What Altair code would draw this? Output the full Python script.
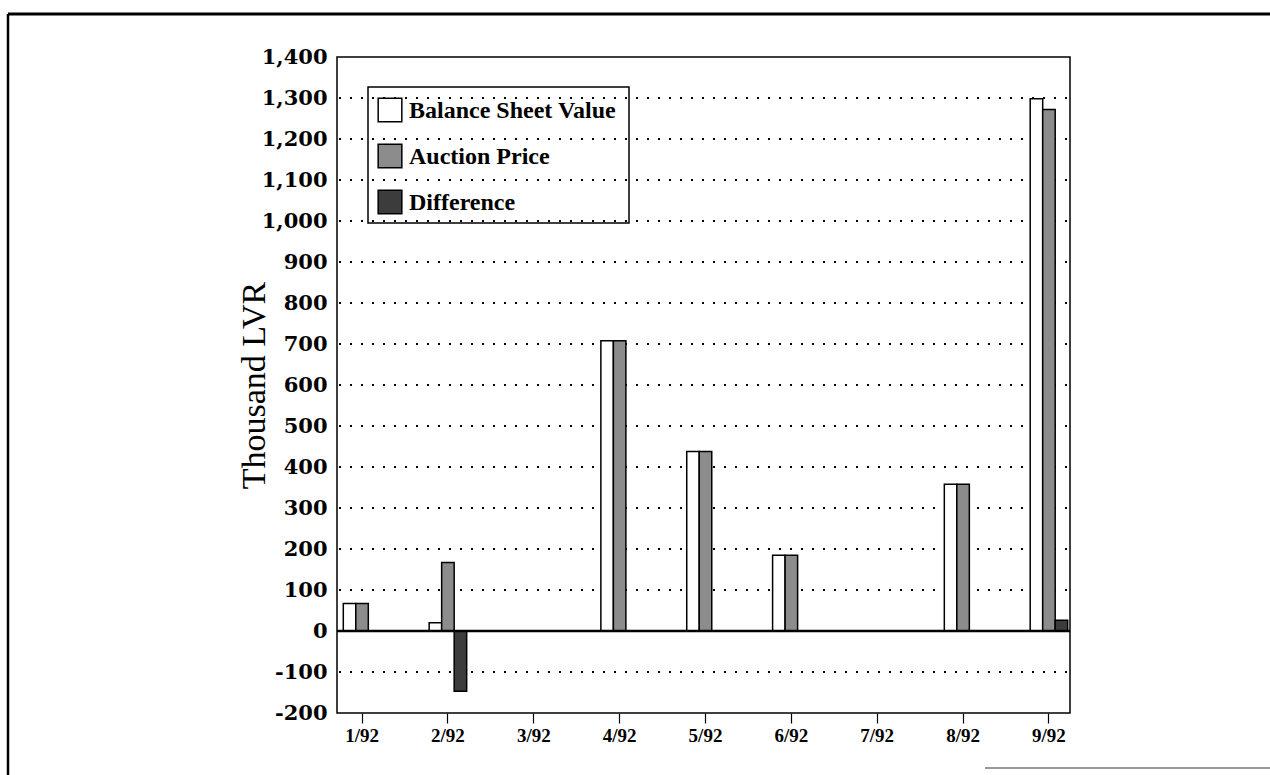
import altair as alt
import pandas as pd

months = ["1/92", "2/92", "3/92", "4/92", "5/92", "6/92", "7/92", "8/92", "9/92"]
series_order = ["Balance Sheet Value", "Auction Price", "Difference"]
balance_sheet = [67, 20, 0, 708, 438, 185, 0, 358, 1298]
auction_price = [67, 167, 0, 708, 438, 185, 0, 358, 1272]
difference = [0, -147, 0, 0, 0, 0, 0, 0, 26]
y_ticks = list(range(-200, 1401, 100))
grid_values = list(range(-100, 1301, 100))
fill_colors = ["white", "#8c8c8c", "#3c3c3c"]

rows = []
for i, m in enumerate(months):
    rows.append({"month": m, "series": series_order[0], "value": balance_sheet[i]})
    rows.append({"month": m, "series": series_order[1], "value": auction_price[i]})
    rows.append({"month": m, "series": series_order[2], "value": difference[i]})
df = pd.DataFrame(rows)

W, H = 733, 656
y_scale = alt.Scale(domain=[-200, 1400], nice=False, zero=False)
fill_scale = alt.Scale(domain=series_order, range=fill_colors)

# dotted horizontal grid, drawn first so bars cover it
grid = alt.Chart(pd.DataFrame({"g": grid_values})).mark_rule(
    color="black", strokeWidth=2, strokeDash=[2, 9]
).encode(
    y=alt.Y("g:Q", scale=y_scale, axis=None),
    x=alt.value(2), x2=alt.value(733),
)

bars = alt.Chart(df).mark_bar(stroke="black", strokeWidth=1.5).encode(
    x=alt.X(
        "month:N",
        sort=months,
        scale=alt.Scale(paddingInner=0.563, paddingOuter=0.05, range=[2, 735]),
        axis=alt.Axis(
            title=None, labelAngle=0, ticks=True, tickSize=10, tickColor="black",
            tickWidth=1.2, domain=False, grid=False,
            labelFont="Liberation Serif", labelFontWeight="bold", labelFontSize=19,
            labelColor="black", labelPadding=3,
        ),
    ),
    xOffset=alt.XOffset("series:N", sort=series_order),
    y=alt.Y(
        "value:Q",
        scale=y_scale,
        axis=alt.Axis(
            title="Thousand LVR", values=y_ticks, ticks=False, domain=False,
            grid=False,
            labelFont="DejaVu Serif", labelFontWeight="bold", labelFontSize=21,
            labelColor="black", labelPadding=10,
            labelExpr="datum.value < 0 ? '-' + format(-datum.value, ',') : format(datum.value, ',')",
            titleFont="Liberation Serif", titleFontWeight="normal", titleFontSize=34,
            titleColor="black", titlePadding=-10,
        ),
    ),
    fill=alt.Fill("series:N", sort=series_order, scale=fill_scale, legend=None),
)

zero_df = pd.DataFrame({"v": [0]})
zero_line = alt.Chart(zero_df).mark_rule(color="black", strokeWidth=2.5).encode(
    y=alt.Y("v:Q", scale=y_scale, axis=None)
)

# legend drawn as marks so the dotted grid shows through it
legend_df = pd.DataFrame({"series": series_order})
legend_y = alt.Y("series:N", sort=series_order,
                 scale=alt.Scale(range=[53, 145], padding=0), axis=None)
legend_box = alt.Chart(pd.DataFrame({"a": [0]})).mark_rect(
    filled=False, stroke="black", strokeWidth=1.5
).encode(x=alt.value(31), x2=alt.value(292), y=alt.value(30), y2=alt.value(166))
legend_sym = alt.Chart(legend_df).mark_square(
    size=560, stroke="black", strokeWidth=1.5, opacity=1
).encode(
    x=alt.value(53), y=legend_y,
    fill=alt.Fill("series:N", sort=series_order, scale=fill_scale, legend=None),
)
legend_txt = alt.Chart(legend_df).mark_text(
    align="left", baseline="middle", font="Liberation Serif", fontWeight="bold",
    fontSize=24, color="black", dy=1
).encode(x=alt.value(72), y=legend_y, text="series:N")

one = pd.DataFrame({"a": [0]})
top_edge = alt.Chart(one).mark_rule(color="black", strokeWidth=3).encode(
    x=alt.value(-329), x2=alt.value(933), y=alt.value(-43)
)
left_edge = alt.Chart(one).mark_rule(color="black", strokeWidth=2.5).encode(
    x=alt.value(-329), y=alt.value(-43), y2=alt.value(718)
)
bottom_edge = alt.Chart(one).mark_rule(color="#777777", strokeWidth=1.5).encode(
    x=alt.value(648), x2=alt.value(933), y=alt.value(711)
)

chart = alt.layer(
    grid, bars, zero_line, legend_box, legend_sym, legend_txt, top_edge, left_edge, bottom_edge
).resolve_scale(y="independent").properties(
    width=W, height=H,
    autosize=alt.AutoSizeParams(type="none"),
    padding={"left": 337, "top": 57, "right": 200, "bottom": 62},
    background="white",
).configure_view(
    stroke="black", strokeWidth=1.5
)

chart.save("out.html", embed_options={"renderer": "svg", "actions": False})
